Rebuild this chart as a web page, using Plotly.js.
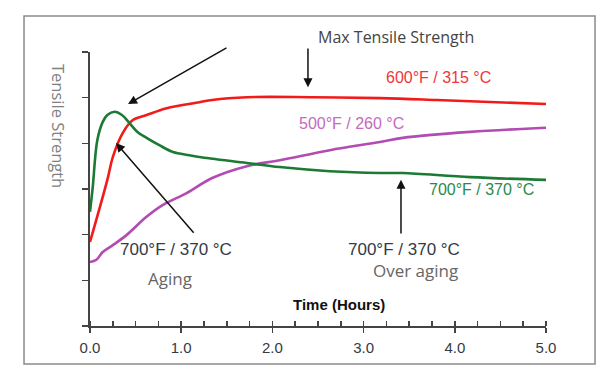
<!DOCTYPE html>
<html>
<head>
<meta charset="utf-8">
<script src="https://cdn.plot.ly/plotly-3.0.1.min.js"></script>
<style>html,body{margin:0;padding:0;background:#fff;}#chart{width:610px;height:382px;}</style>
</head>
<body>
<div id="chart"></div>
<script>
// Time (hours) and tensile strength (relative units)
const redX = [0, 0.19, 0.25, 0.36, 0.47, 0.62, 0.84, 1.20, 1.34, 1.72, 2.44, 3.18, 3.80, 5.0];
const redY = [1.84, 3.20, 3.70, 4.23, 4.51, 4.62, 4.77, 4.90, 4.95, 5.01, 5.01, 4.99, 4.95, 4.86];

const greenX = [0, 0.03, 0.08, 0.14, 0.19, 0.27, 0.35, 0.43, 0.52, 0.62, 0.76, 0.91, 1.09, 1.20, 1.72, 2.08, 2.63, 3.18, 3.43, 4.17, 5.0];
const greenY = [2.50, 3.04, 4.07, 4.47, 4.62, 4.69, 4.62, 4.45, 4.25, 4.12, 3.96, 3.81, 3.74, 3.70, 3.57, 3.48, 3.39, 3.35, 3.35, 3.26, 3.20];

const magX = [0, 0.07, 0.14, 0.25, 0.40, 0.62, 0.80, 1.06, 1.34, 1.72, 2.08, 2.63, 3.18, 3.43, 4.17, 5.0];
const magY = [1.40, 1.45, 1.62, 1.77, 1.99, 2.39, 2.65, 2.91, 3.24, 3.50, 3.63, 3.85, 4.03, 4.12, 4.25, 4.34];

const xTickVals = [0, 1, 2, 3, 4, 5];
const xTickText = ['0.0', '1.0', '2.0', '3.0', '4.0', '5.0'];

const seriesNames = ['600°F / 315 °C', '500°F / 260 °C', '700°F / 370 °C'];

const traces = [
  {x: redX, y: redY, name: seriesNames[0], mode: 'lines', line: {color: '#f21b1b', width: 2.6, shape: 'spline', smoothing: 1}},
  {x: magX, y: magY, name: seriesNames[1], mode: 'lines', line: {color: '#b24bb2', width: 2.6, shape: 'spline', smoothing: 1}},
  {x: greenX, y: greenY, name: seriesNames[2], mode: 'lines', line: {color: '#1c7a34', width: 2.6, shape: 'spline', smoothing: 1}},
  {x: [0, 5], y: [0, 0], xaxis: 'x2', yaxis: 'y', mode: 'lines', line: {width: 0}, hoverinfo: 'skip', showlegend: false}
];

const sans = 'Open Sans, Noto Sans, sans-serif';
const arial = 'Liberation Sans, Arial, sans-serif';

const annotations = [
  {xref: 'paper', yref: 'paper', x: 0.672, y: 1.0547, xanchor: 'center', yanchor: 'middle', text: 'Max Tensile Strength', showarrow: false, font: {family: sans, size: 16, color: '#444'}},
  {x: 3.816, y: 5.45, xanchor: 'center', yanchor: 'middle', text: seriesNames[0], showarrow: false, font: {family: arial, size: 16, color: '#f0353a'}},
  {x: 2.27, y: 4.44, xanchor: 'left', yanchor: 'middle', text: seriesNames[1], showarrow: false, font: {family: arial, size: 16, color: '#c46ac0'}},
  {x: 3.695, y: 2.98, xanchor: 'left', yanchor: 'middle', text: seriesNames[2], showarrow: false, font: {family: arial, size: 16, color: '#2a8a4c'}},
  {x: 0.943, y: 1.686, xanchor: 'center', yanchor: 'middle', text: '700°F / 370 °C', showarrow: false, font: {family: arial, size: 17, color: '#333a48'}},
  {x: 0.872, y: 1.05, xanchor: 'center', yanchor: 'middle', text: 'Aging', showarrow: false, font: {family: sans, size: 17, color: '#666'}},
  {x: 3.443, y: 1.686, xanchor: 'center', yanchor: 'middle', text: '700°F / 370 °C', showarrow: false, font: {family: arial, size: 17, color: '#333a48'}},
  {x: 3.564, y: 1.226, xanchor: 'center', yanchor: 'middle', text: 'Over aging', showarrow: false, font: {family: sans, size: 17, color: '#666'}},
  {x: 2.725, y: 0.46, xanchor: 'center', yanchor: 'middle', text: '<b>Time (Hours)</b>', showarrow: false, font: {family: arial, size: 15, color: '#111'}},
  {xref: 'paper', yref: 'paper', x: -0.0702, y: 0.730, xanchor: 'center', yanchor: 'middle', text: 'Tensile Strength', textangle: 90, showarrow: false, font: {family: sans, size: 16.5, color: '#808080'}},
  // arrows
  {x: 0.417, y: 4.86, ax: 1.513, ay: 6.11, axref: 'x', ayref: 'y', text: '', showarrow: true, arrowhead: 2, arrowsize: 1.2, arrowwidth: 1.5, arrowcolor: '#111'},
  {x: 2.39, y: 5.23, ax: 2.39, ay: 6.11, axref: 'x', ayref: 'y', text: '', showarrow: true, arrowhead: 2, arrowsize: 1.2, arrowwidth: 1.5, arrowcolor: '#111'},
  {x: 0.285, y: 4.01, ax: 1.151, ay: 2.01, axref: 'x', ayref: 'y', text: '', showarrow: true, arrowhead: 2, arrowsize: 1.2, arrowwidth: 1.5, arrowcolor: '#111'},
  {x: 3.41, y: 3.20, ax: 3.41, ay: 1.99, axref: 'x', ayref: 'y', text: '', showarrow: true, arrowhead: 2, arrowsize: 1.2, arrowwidth: 1.5, arrowcolor: '#111'}
];

const layout = {
  width: 610, height: 382,
  margin: {l: 90, r: 64, t: 52, b: 56},
  paper_bgcolor: '#fff', plot_bgcolor: '#fff',
  showlegend: false,
  xaxis: {
    range: [0, 5], showgrid: false, zeroline: false,
    showline: true, linecolor: '#444', linewidth: 2,
    tickvals: xTickVals, ticktext: xTickText,
    ticks: 'outside', ticklen: 5, tickwidth: 1.5, tickcolor: '#444',
    ticklabelstandoff: 2,
    minor: {dtick: 0.25, tick0: 0, ticks: 'inside', ticklen: 5, tickwidth: 1.5, tickcolor: '#444', showgrid: false},
    tickfont: {family: arial, size: 15, color: '#333a48'}
  },
  xaxis2: {
    overlaying: 'x', range: [0, 5], showgrid: false, zeroline: false, showline: false,
    tickvals: xTickVals, ticks: 'inside', ticklen: 5, tickwidth: 1.5, tickcolor: '#444',
    showticklabels: false, side: 'bottom', anchor: 'y'
  },
  yaxis: {
    range: [0, 6], showgrid: false, zeroline: false,
    showline: true, linecolor: '#444', linewidth: 2,
    dtick: 1, tick0: 0, ticks: 'outside', ticklen: 6, tickwidth: 1.5, tickcolor: '#444',
    showticklabels: false
  },
  shapes: [
    {type: 'rect', xref: 'paper', yref: 'paper', x0: -0.1447, x1: 1.1075, y0: -0.1387, y1: 1.1314,
     line: {color: '#8a8a8a', width: 1.5}, fillcolor: 'rgba(0,0,0,0)', layer: 'below'}
  ],
  annotations: annotations
};

Plotly.newPlot('chart', traces, layout, {staticPlot: true, displayModeBar: false});
</script>
</body>
</html>
